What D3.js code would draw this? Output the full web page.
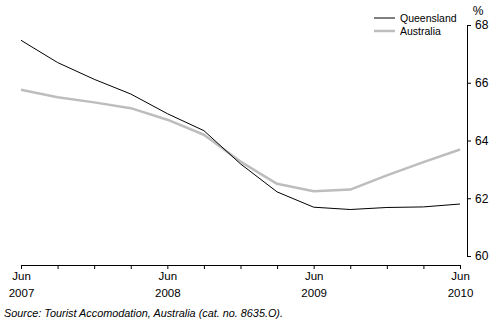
<!DOCTYPE html>
<html>
<head>
<meta charset="utf-8">
<script src="https://cdn.jsdelivr.net/npm/d3@7/dist/d3.min.js"></script>
<style>
  html, body { margin: 0; padding: 0; background: #fff; }
  svg { display: block; font-family: "Liberation Sans", Arial, sans-serif; }
</style>
</head>
<body>
<svg id="chart" width="496" height="331"></svg>
<script>
// Quarterly occupancy rates, Jun 2007 – Jun 2010
const quarters = ["Jun 2007", "Sep 2007", "Dec 2007", "Mar 2008", "Jun 2008", "Sep 2008", "Dec 2008",
                  "Mar 2009", "Jun 2009", "Sep 2009", "Dec 2009", "Mar 2010", "Jun 2010"];
const queensland = [67.47, 66.70, 66.12, 65.61, 64.93, 64.34, 63.19, 62.22, 61.69, 61.61, 61.68, 61.70, 61.80];
const australia  = [65.76, 65.50, 65.32, 65.12, 64.72, 64.20, 63.27, 62.50, 62.24, 62.30, 62.79, 63.25, 63.69];
const yTicks = [60, 62, 64, 66, 68];
const seriesNames = ["Queensland", "Australia"];
const sourceNote = "Source: Tourist Accomodation, Australia (cat. no. 8635.O).";

const svg = d3.select("#chart");

const x = d3.scalePoint().domain(quarters).range([21, 460]);
const y = d3.scaleLinear().domain([60, 68]).range([256, 25]);

// x axis: a tick per quarter, labels on each June
const xAxis = d3.axisBottom(x).tickSize(4).tickSizeOuter(4).tickFormat("");
const gx = svg.append("g").attr("transform", "translate(0,265)").call(xAxis);
gx.selectAll("path, line").attr("stroke", "#000").attr("stroke-width", 1);
gx.selectAll(".tick").filter(d => d.startsWith("Jun")).each(function(d) {
  const [m, yr] = d.split(" ");
  const t = d3.select(this).append("text")
    .attr("text-anchor", "middle").attr("fill", "#000")
    .style("font-size", "11.5px");
  t.append("tspan").attr("x", 0).attr("y", 15).text(m);
  t.append("tspan").attr("x", 0).attr("y", 31.5).text(yr);
});

// y axis on the right
const yAxis = d3.axisRight(y).tickValues(yTicks).tickSize(4).tickSizeOuter(4).tickPadding(4);
const gy = svg.append("g").attr("transform", "translate(467,0)").call(yAxis);
gy.selectAll("path, line").attr("stroke", "#000").attr("stroke-width", 1);
gy.selectAll("text").attr("fill", "#000").style("font-size", "12px");

svg.append("text").attr("x", 478).attr("y", 15).attr("text-anchor", "middle")
  .style("font-size", "12px").attr("fill", "#000").text("%");

// series lines
const line = d3.line().x((d, i) => x(quarters[i])).y(d => y(d));
svg.append("path").datum(australia).attr("d", line)
  .attr("fill", "none").attr("stroke", "#bdbdbd").attr("stroke-width", 2.5)
  .attr("stroke-linejoin", "round");
svg.append("path").datum(queensland).attr("d", line)
  .attr("fill", "none").attr("stroke", "#000").attr("stroke-width", 1)
  .attr("stroke-linejoin", "round");

// legend
const legendStyles = [{ c: "#000", w: 1 }, { c: "#bdbdbd", w: 2.5 }];
const lg = svg.append("g");
seriesNames.forEach((name, i) => {
  const ly = 18 + i * 13;
  lg.append("line").attr("x1", 374).attr("x2", 395).attr("y1", ly).attr("y2", ly)
    .attr("stroke", legendStyles[i].c).attr("stroke-width", legendStyles[i].w);
  lg.append("text").attr("x", 400).attr("y", ly + 4)
    .style("font-size", "10.5px").attr("fill", "#000").text(name);
});

// source note
svg.append("text").attr("x", 4).attr("y", 316.5)
  .style("font-size", "10px").style("font-style", "italic").attr("fill", "#000")
  .attr("textLength", 279).attr("lengthAdjust", "spacingAndGlyphs")
  .text(sourceNote);
</script>
</body>
</html>
